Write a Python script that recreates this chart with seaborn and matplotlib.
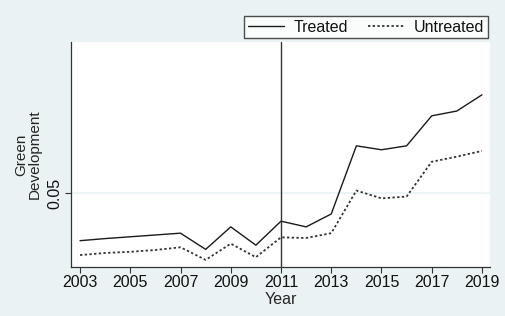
import matplotlib
matplotlib.use("Agg")
import matplotlib.pyplot as plt
import seaborn as sns
import pandas as pd
from matplotlib.lines import Line2D

years = list(range(2003, 2020))
treated = [0.0341, 0.0348, 0.0354, 0.0360, 0.0366, 0.0312, 0.0387, 0.0326, 0.0406,
           0.0387, 0.0430, 0.0657, 0.0644, 0.0657, 0.0757, 0.0773, 0.0827]
untreated = [0.0293, 0.0300, 0.0304, 0.0310, 0.0319, 0.0277, 0.0331, 0.0286, 0.0352,
             0.0350, 0.0366, 0.0508, 0.0482, 0.0488, 0.0604, 0.0621, 0.0640]
xticks = [2003, 2005, 2007, 2009, 2011, 2013, 2015, 2017, 2019]
yticks = [0.05]
policy_year = 2011

df = pd.DataFrame({"Year": years * 2,
                   "value": treated + untreated,
                   "group": ["Treated"] * len(years) + ["Untreated"] * len(years)})

sns.set_theme(style="white")
plt.rcParams['font.family'] = ['Liberation Sans', 'DejaVu Sans']
plt.rcParams['text.color'] = '#111111'

bg = "#EAF2F3"
fig = plt.figure(figsize=(5.05, 3.16), dpi=100, facecolor=bg)
ax = fig.add_axes([71/505, 1 - 267/316, (490 - 71)/505, (267 - 42)/316])
ax.set_facecolor("white")

sns.lineplot(data=df, x="Year", y="value", hue="group", style="group",
             palette={"Treated": "#1a1a1a", "Untreated": "#333333"},
             dashes={"Treated": (None, None), "Untreated": (1.5, 1.5)},
             linewidth=1.0, ax=ax, legend=False)
ax.lines[1].set_linestyle((0, (1.3, 1.3)))
ax.lines[1].set_linewidth(1.3)

ax.axhline(0.05, color="#EAF2F3", linewidth=1.2, zorder=0)
ax.axvline(policy_year, color="#333333", linewidth=1.0)

ax.set_xlim(2002.64, 2019.32)
ax.set_ylim(0.02533, 0.1003)
ax.set_xticks(xticks)
ax.set_xticklabels([str(t) for t in xticks], fontsize=11.5, color="#111111")
ax.set_yticks(yticks)
ax.set_yticklabels(["0.05"], fontsize=11.5, rotation=90, va="center", color="#111111")
ax.tick_params(axis="both", direction="out", length=4, width=0.8, color="#333333",
               bottom=True, left=True, pad=2)
for s in ["top", "right"]:
    ax.spines[s].set_visible(False)
for s in ["left", "bottom"]:
    ax.spines[s].set_color("#333333")
    ax.spines[s].set_linewidth(0.9)

ax.set_xlabel("Year", fontsize=11.5, labelpad=0, linespacing=1.0)
ax.xaxis.set_label_coords(0.5, -0.11)
ax.set_ylabel("Green\nDevelopment", fontsize=11, labelpad=4, linespacing=0.95)

handles = [Line2D([], [], color="#1a1a1a", lw=1.0),
           Line2D([], [], color="#333333", lw=1.3, linestyle=(0, (1.3, 1.3)))]
leg = fig.legend(handles, ["Treated", "Untreated"], ncol=2, fontsize=11.5,
                 loc="center", bbox_to_anchor=(366/505, 1 - 27/316),
                 frameon=True, fancybox=False, edgecolor="#222222",
                 handlelength=2.3, columnspacing=1.2, borderpad=0.25,
                 handletextpad=0.6, borderaxespad=0)
leg.get_frame().set_linewidth(1.0)

fig.savefig("out.png", dpi=100, facecolor=bg)
